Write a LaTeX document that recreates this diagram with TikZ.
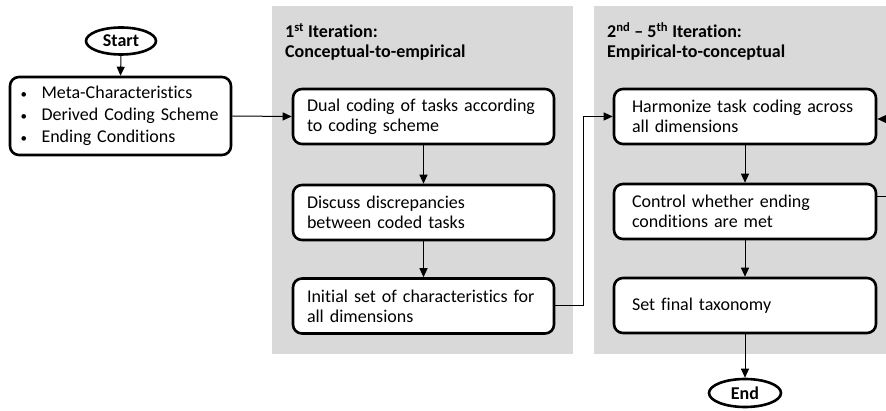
\documentclass[tikz,border=0pt]{standalone}
\usepackage{fontspec}
\setmainfont{Carlito}[Ligatures=NoCommon]
\usetikzlibrary{arrows.meta,shapes.geometric}
\definecolor{panelgray}{HTML}{D9D9D9}
\begin{document}
\begin{tikzpicture}[x=1pt,y=-1pt,
  font=\fontsize{18}{20}\selectfont,
  stepbox/.style={draw,line width=2.6pt,rounded corners=9pt,fill=white,minimum height=55pt,align=left,inner ysep=2pt},
  lbox/.style={stepbox,text width=233pt,inner xsep=14pt,minimum width=261pt},
  rbox/.style={stepbox,text width=226pt,inner xsep=18pt,minimum width=262pt},
  term/.style={draw,ellipse,line width=2.6pt,fill=white,font=\fontsize{18}{20}\selectfont\bfseries,inner sep=0pt},
  conn/.style={line width=1pt,-{Triangle[length=9pt,width=8pt]}},
  ptitle/.style={font=\fontsize{18}{20}\selectfont\bfseries,anchor=base west,inner sep=0pt},
  panel/.style={fill=panelgray,draw=none}
]
\newcommand\bul{\makebox[21pt][l]{\fontsize{13}{13}\selectfont\textbullet}}
\useasboundingbox (0,0) rectangle (886,411);
\clip (0,0) rectangle (886,411);
\path[panel] (272,6) rectangle (573,354);
\path[panel] (594,6) rectangle (900,354);

\node[ptitle] (t1a) at (285,37.5) {1\textsuperscript{st} Iteration:};
\node[ptitle] (t1b) at (285,57.5) {Conceptual-to-empirical};
\node[ptitle] (t2a) at (607,37.5) {2\textsuperscript{nd} – 5\textsuperscript{th} Iteration:};
\node[ptitle] (t2b) at (607,57.5) {Empirical-to-conceptual};

\node[term,minimum width=70pt,minimum height=27pt] (start) at (121,41) {Start};
\node[draw,line width=2.6pt,rounded corners=9pt,fill=white,minimum width=221pt,minimum height=78pt,align=left,
      text width=200pt,inner xsep=10.5pt,font=\fontsize{18}{22}\selectfont] (meta) at (120.5,116)
  {\bul Meta-Characteristics\\
   \bul Derived Coding Scheme\\
   \bul Ending Conditions};

\node[lbox] (dual) at (423.5,116.5) {Dual coding of tasks according\\to coding scheme};
\node[lbox] (disc) at (423.5,212.5) {Discuss discrepancies\\between coded tasks};
\node[lbox] (init) at (423.5,306) {Initial set of characteristics for\\all dimensions};

\node[rbox] (harm) at (745,116.5) {Harmonize task coding across\\all dimensions};
\node[rbox] (ctrl) at (745,211.5) {Control whether ending\\conditions are met};
\node[rbox] (final) at (745,305.5) {Set final taxonomy};
\node[term,minimum width=72pt,minimum height=28pt] (endn) at (745,393) {End};

\draw[conn] (start.south) -- (meta.north);
\draw[conn] (meta.east) -- (dual.west);
\draw[conn] (dual) -- (disc);
\draw[conn] (disc) -- (init);
\draw[conn] (init.east) -- ++(28,0) |- (harm.west);
\draw[conn] (harm) -- (ctrl);
\draw[conn] (ctrl) -- (final);
\draw[conn] (final) -- (endn);
\draw[conn] ([yshift=15pt]ctrl.east) -- ++(20,0) |- ([yshift=-2.5pt]harm.east);
\end{tikzpicture}
\end{document}
